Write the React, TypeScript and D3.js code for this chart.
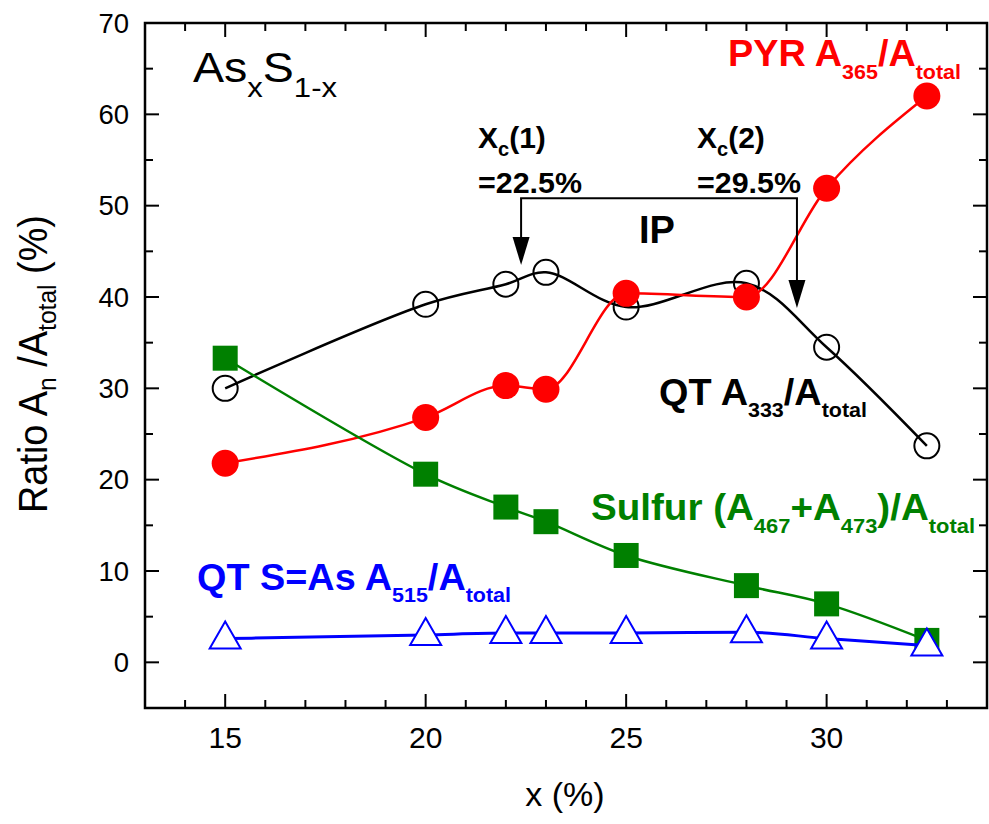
import React from "react";
import * as d3 from "d3";

const xValues = [15, 20, 22, 23, 25, 28, 30, 32.5];
const pyr = [21.8, 26.8, 30.3, 29.9, 40.4, 40.0, 51.9, 62.0];
const qt333 = [30.0, 39.2, 41.4, 42.7, 38.9, 41.5, 34.5, 23.7];
const sulfur = [33.3, 20.6, 17.0, 15.4, 11.7, 8.4, 6.4, 2.4];
const qt515 = [2.6, 3.0, 3.2, 3.2, 3.2, 3.3, 2.6, 1.85];

const xTicks = [15, 20, 25, 30];
const yTicks = [0, 10, 20, 30, 40, 50, 60, 70];
const xMinor = d3.range(13, 35, 1);
const yMinor = d3.range(-5, 71, 5);

const xc1 = 22.38;
const xc2 = 29.26;
const bracketY = 50.8;
const tip1 = 43.5;
const tip2 = 38.8;

const FONT = "'Liberation Sans', Arial, Helvetica, sans-serif";

export default function App() {
  const W = 989, H = 824;
  const L = 145, R = 987, T = 23, B = 708;
  const x = d3.scaleLinear().domain([13, 34]).range([L, R]);
  const y = d3.scaleLinear().domain([-5, 70]).range([B, T]);

  const lineGen = (vals: number[], curve: d3.CurveFactory = d3.curveCatmullRom.alpha(0.5)) =>
    d3
      .line<number>()
      .x((_, i) => x(xValues[i]))
      .y((d) => y(d))
      .curve(curve)(vals) || "";

  const tri = (cx: number, cy: number) =>
    `M${cx},${cy - 17}L${cx + 15.5},${cy + 10}L${cx - 15.5},${cy + 10}Z`;

  const arrow = (xv: number, tipV: number) => {
    const px = x(xv);
    const ty = y(tipV);
    return (
      <g>
        <line x1={px} x2={px} y1={y(bracketY)} y2={ty - 26} stroke="#000" strokeWidth={2} />
        <path d={`M${px},${ty}L${px - 8.5},${ty - 28}L${px + 8.5},${ty - 28}Z`} fill="#000" />
      </g>
    );
  };

  return (
    <svg
      width={W}
      height={H}
      style={{ position: "absolute", left: 0, top: 0, background: "#fff" }}
      fontFamily={FONT}
    >
      <rect x={0} y={0} width={W} height={H} fill="#fff" />
      {/* frame */}
      <rect x={L} y={T} width={R - L} height={B - T} fill="none" stroke="#000" strokeWidth={2.5} />
      {/* x ticks */}
      {xMinor.map((v) => {
        const major = v % 5 === 0;
        const len = major ? 14 : 8;
        return (
          <g key={"xm" + v}>
            <line x1={x(v)} x2={x(v)} y1={B} y2={B - len} stroke="#000" strokeWidth={2} />
            <line x1={x(v)} x2={x(v)} y1={T} y2={T + len} stroke="#000" strokeWidth={2} />
          </g>
        );
      })}
      {yMinor.map((v) => {
        const major = v % 10 === 0;
        const len = major ? 14 : 8;
        return (
          <g key={"ym" + v}>
            <line x1={L} x2={L + len} y1={y(v)} y2={y(v)} stroke="#000" strokeWidth={2} />
            <line x1={R} x2={R - len} y1={y(v)} y2={y(v)} stroke="#000" strokeWidth={2} />
          </g>
        );
      })}
      {xTicks.map((v) => (
        <text key={"xt" + v} x={x(v)} y={748} fontSize={30} textAnchor="middle" fill="#000">
          {v}
        </text>
      ))}
      {yTicks.map((v) => (
        <text key={"yt" + v} x={129} y={y(v) + 9.5} fontSize={27.5} textAnchor="end" fill="#000">
          {v}
        </text>
      ))}
      {/* axis titles */}
      <text x={565} y={806} fontSize={34} textAnchor="middle" fill="#000">
        x (%)
      </text>
      <text
        transform={`translate(47,364) rotate(-90)`}
        fontSize={40}
        textAnchor="middle"
        fill="#000"
        textLength={298}
        lengthAdjust="spacingAndGlyphs"
      >
        Ratio A<tspan fontSize={26} dy={9}>n</tspan>
        <tspan dy={-9}> /A</tspan>
        <tspan fontSize={26} dy={9}>total</tspan>
        <tspan dy={-9}> (%)</tspan>
      </text>

      {/* series lines */}
      <path d={lineGen(qt333)} fill="none" stroke="#000" strokeWidth={2.5} />
      {xValues.map((v, i) => (
        <circle key={"qc" + i} cx={x(v)} cy={y(qt333[i])} r={12.5} fill="none" stroke="#000" strokeWidth={2} />
      ))}
      <path d={lineGen(pyr, d3.curveMonotoneX)} fill="none" stroke="#ff0000" strokeWidth={2.5} />
      {xValues.map((v, i) => (
        <circle key={"pc" + i} cx={x(v)} cy={y(pyr[i])} r={13.5} fill="#ff0000" />
      ))}
      <path d={lineGen(sulfur)} fill="none" stroke="#008000" strokeWidth={2.5} />
      {xValues.map((v, i) => (
        <rect key={"sc" + i} x={x(v) - 12.5} y={y(sulfur[i]) - 12.5} width={25} height={25} fill="#008000" />
      ))}
      <path d={lineGen(qt515, d3.curveMonotoneX)} fill="none" stroke="#0000ff" strokeWidth={3} />
      {xValues.map((v, i) => (
        <path key={"tc" + i} d={tri(x(v), y(qt515[i]))} fill="#fff" stroke="#0000ff" strokeWidth={2} />
      ))}

      {/* bracket & arrows */}
      <line x1={x(xc1) - 1} x2={x(xc2) + 1} y1={y(bracketY)} y2={y(bracketY)} stroke="#000" strokeWidth={2} />
      {arrow(xc1, tip1)}
      {arrow(xc2, tip2)}

      {/* annotations */}
      <text x={478} y={148} fontSize={30} fontWeight="bold" fill="#000">
        X<tspan fontSize={20} dy={8}>c</tspan>
        <tspan dy={-8}>(1)</tspan>
      </text>
      <text x={478} y={193} fontSize={30} fontWeight="bold" fill="#000" textLength={104} lengthAdjust="spacingAndGlyphs">
        =22.5%
      </text>
      <text x={697} y={148} fontSize={30} fontWeight="bold" fill="#000">
        X<tspan fontSize={20} dy={8}>c</tspan>
        <tspan dy={-8}>(2)</tspan>
      </text>
      <text x={697} y={193} fontSize={30} fontWeight="bold" fill="#000" textLength={104} lengthAdjust="spacingAndGlyphs">
        =29.5%
      </text>
      <text x={639} y={243} fontSize={38} fontWeight="bold" fill="#000">
        IP
      </text>

      <text x={193} y={82} fontSize={42} fill="#000" textLength={144} lengthAdjust="spacingAndGlyphs">
        As<tspan fontSize={28} dy={15}>x</tspan>
        <tspan dy={-15}>S</tspan>
        <tspan fontSize={28} dy={15}>1-x</tspan>
      </text>

      <text x={728} y={66} fontSize={37} fontWeight="bold" fill="#ff0000" textLength={233} lengthAdjust="spacingAndGlyphs">
        PYR A<tspan fontSize={21} dy={13}>365</tspan>
        <tspan dy={-13}>/A</tspan>
        <tspan fontSize={21} dy={13}>total</tspan>
      </text>
      <text x={659} y={405} fontSize={37} fontWeight="bold" fill="#000" textLength={208} lengthAdjust="spacingAndGlyphs">
        QT A<tspan fontSize={21} dy={12}>333</tspan>
        <tspan dy={-12}>/A</tspan>
        <tspan fontSize={21} dy={12}>total</tspan>
      </text>
      <text x={591} y={520} fontSize={37} fontWeight="bold" fill="#008000" textLength={384} lengthAdjust="spacingAndGlyphs">
        Sulfur (A<tspan fontSize={21} dy={13}>467</tspan>
        <tspan dy={-13}>+A</tspan>
        <tspan fontSize={21} dy={13}>473</tspan>
        <tspan dy={-13}>)/A</tspan>
        <tspan fontSize={21} dy={13}>total</tspan>
      </text>
      <text x={197} y={590} fontSize={37} fontWeight="bold" fill="#0000ff" textLength={314} lengthAdjust="spacingAndGlyphs">
        QT S=As A<tspan fontSize={21} dy={12}>515</tspan>
        <tspan dy={-12}>/A</tspan>
        <tspan fontSize={21} dy={12}>total</tspan>
      </text>
    </svg>
  );
}
